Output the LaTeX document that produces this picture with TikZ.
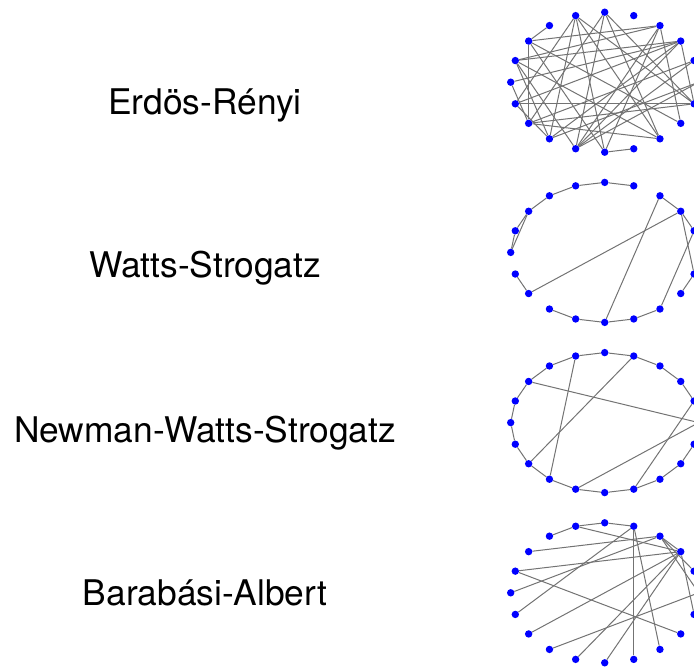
\documentclass[tikz,border=0pt]{standalone}
\usepackage{fontspec}
\setmainfont{TeX Gyre Heros}
\usetikzlibrary{backgrounds}
\begin{document}
\begin{tikzpicture}[x=1pt,y=-1pt,
  dot/.style={circle,fill=blue,draw=none,inner sep=0pt,minimum size=7.4pt},
  edge/.style={draw=black!55,line width=1pt},
  lab/.style={font=\fontsize{35.35}{42}\selectfont,anchor=base,inner sep=0pt}]
\useasboundingbox (0,0) rectangle (694,669);
\clip (0,0) rectangle (694,669);
% node rings
\foreach \p/\cy in {e/82.2,w/252.4,n/422.6,b/592.8}{
  \foreach \k in {0,...,19}{
    \node[dot] (\p\k) at ({604.7+94*cos(\k*18)},{\cy-70*sin(\k*18)}) {};
  }
}
\begin{scope}[on background layer]
% Erdos-Renyi
\foreach \a/\b in {7/8,6/11,6/15,6/19,6/13,5/12,5/19,5/14,3/8,3/9,3/15,3/14,3/18,
  2/9,2/10,2/11,2/14,2/13,2/19,1/12,1/14,8/12,8/18,8/15,9/14,9/17,9/13,10/12,
  11/19,11/13,12/19,12/17,13/0,15/16,17/6,17/5,14/0}
  \draw[edge] (e\a) -- (e\b);
% Watts-Strogatz
\foreach \a/\b in {4/5,5/6,6/7,7/8,8/9,8/10,9/10,11/12,12/2,13/14,14/15,15/16,
  16/17,15/3,3/2,2/1,2/19,17/1,18/19,0/1}
  \draw[edge] (w\a) -- (w\b);
% Newman-Watts-Strogatz
\foreach \a/\b in {0/1,1/2,2/3,3/4,4/5,5/6,6/7,7/8,8/9,9/10,10/11,11/12,12/13,
  13/14,14/15,15/16,16/17,17/18,18/19,19/0,6/13,4/12,8/0,14/0,16/1}
  \draw[edge] (n\a) -- (n\b);
% Barabasi-Albert
\foreach \a/\b in {7/6,6/5,5/4,6/2,8/3,9/2,9/18,10/3,11/4,12/2,13/0,14/2,15/2,
  16/4,17/4,19/2,3/2,1/3,0/3}
  \draw[edge] (b\a) -- (b\b);
\end{scope}
% labels
\node[lab] (er) at (205,114) {Erdös-Rényi};
\node[lab] (ws) at (205,277) {Watts-Strogatz};
\node[lab] (nws) at (205,442) {Newman-Watts-Strogatz};
\node[lab] (ba) at (205,605) {Barabási-Albert};
\end{tikzpicture}
\end{document}
